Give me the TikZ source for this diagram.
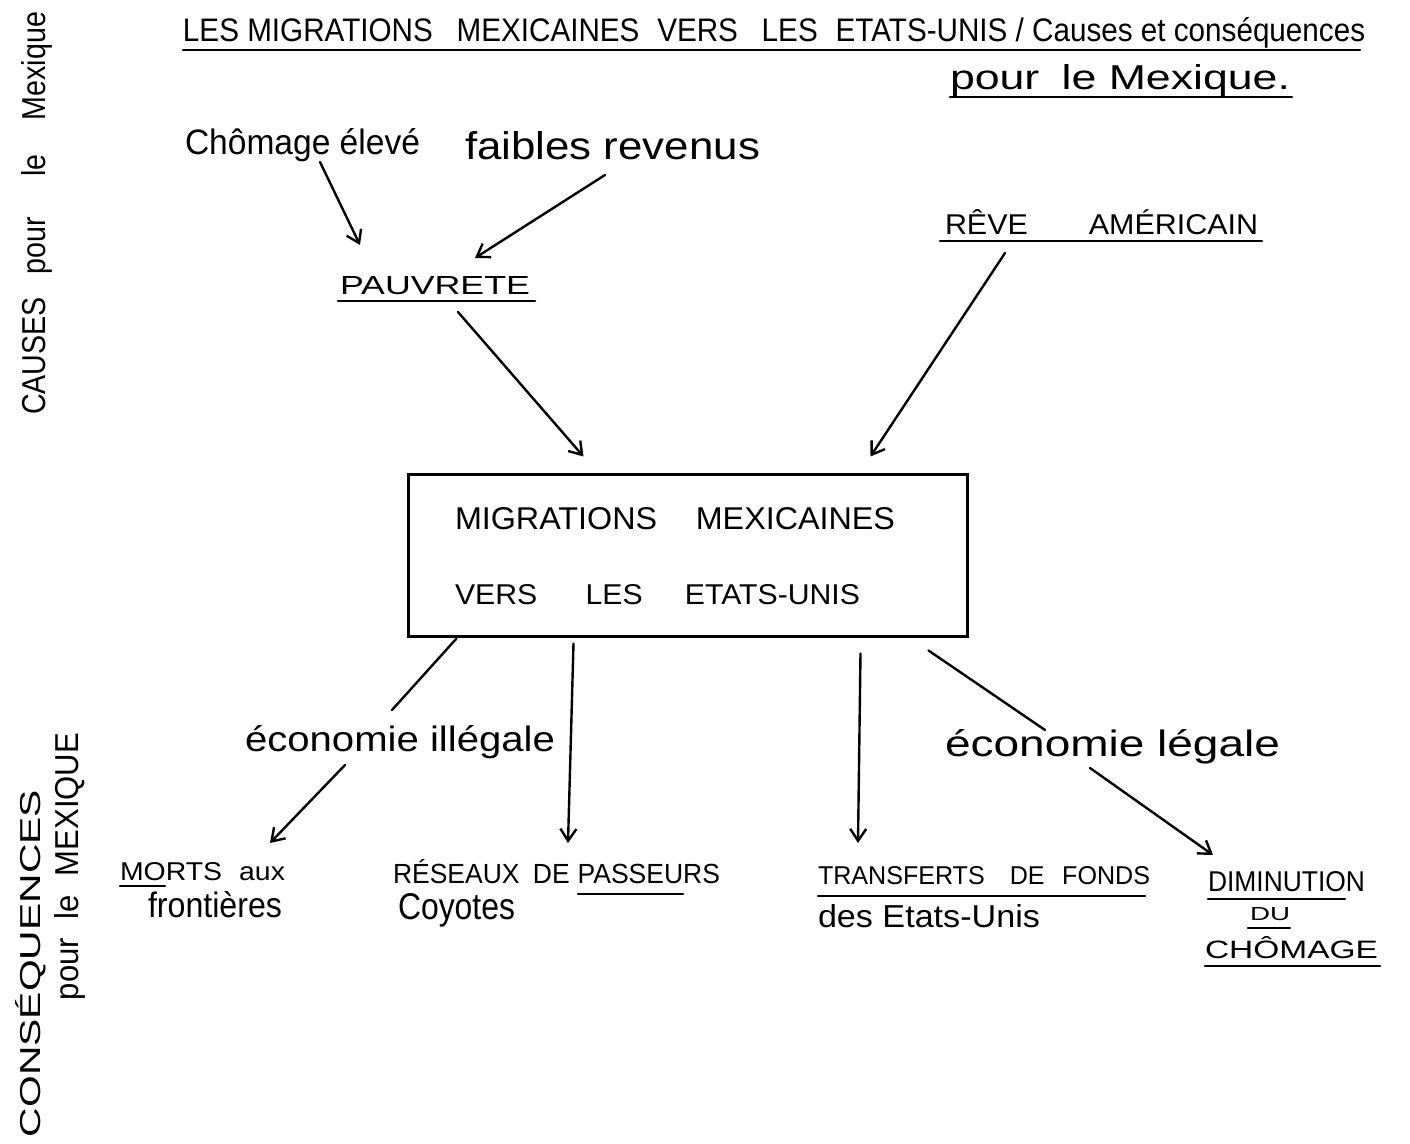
\documentclass[tikz,border=0pt]{standalone}
\usepackage{fontspec}
\setmainfont{Liberation Sans}
\usetikzlibrary{calc,arrows.meta}
\newlength\pxu
\setlength\pxu{0.5pt}
\newcommand{\hw}[3]{\resizebox{#1\pxu}{#2\pxu}{#3}}
\tikzset{
  txt/.style={anchor=base west, inner sep=0pt, outer sep=0pt},
  arr/.style={-{Straight Barb[length=6pt,width=8pt,line width=1.2pt]}, line width=1.2pt, line cap=round},
  ln/.style={line width=1.2pt, line cap=round},
  ul/.style={line width=1.3pt, line cap=round}
}
\begin{document}
\begin{tikzpicture}[x=0.5pt,y=-0.5pt]
\fill[white] (0,0) rectangle (1410,1144);
\useasboundingbox (0,0) rectangle (1410,1144);

% title
\node[txt] (t1) at (183,42) {\hw{1182}{24}{LES MIGRATIONS\hspace{0.8em}MEXICAINES\hspace{0.6em}VERS\hspace{0.8em}LES\hspace{0.6em}ETATS-UNIS / Causes et conséquences}};
\node[txt] (t2) at (950,90) {\hw{340}{25}{pour\hspace{0.5em}le Mexique.}};
\draw[ul] ($(t1.base west)+(0,8)$) -- ($(t1.base west)+(1177,8)$);
\draw[ul] ($(t2.base west)+(0,7)$) -- ($(t2.base west)+(342,7)$);

% causes
\node[txt] (chom) at (185,155) {\hw{235}{26}{Chômage élevé}};
\node[txt] (faib) at (465,160) {\hw{295}{28}{faibles revenus}};
\node[txt] (pauv) at (340,295) {\hw{190}{18}{PAUVRETE}};
\node[txt] (reve) at (945,235) {\hw{313}{25}{RÊVE\hspace{2em}AMÉRICAIN}};
\draw[ul] ($(pauv.base west)+(-2,6)$) -- ($(pauv.base west)+(195,6)$);
\draw[ul] ($(reve.base west)+(-5,6)$) -- ($(reve.base west)+(317,6)$);

% central box
\node[draw, line width=1.5pt, minimum width=279.5pt, minimum height=81pt, inner sep=0pt] (box) at (687.5,556) {};
\node[txt] (m1) at (455,530) {\hw{440}{22}{MIGRATIONS\hspace{1.2em}MEXICAINES}};
\node[txt] (m2) at (455,605) {\hw{405}{20}{VERS\hspace{1.6em}LES\hspace{1.4em}ETATS-UNIS}};

% economy labels
\node[txt] (ill) at (245,752) {\hw{310}{26}{économie illégale}};
\node[txt] (leg) at (945,757) {\hw{335}{27}{économie légale}};

% consequences
\node[txt] (morts) at (120,880) {\hw{165}{18}{MORTS\hspace{0.6em}aux}};
\node[txt] (fron) at (148,917) {\hw{134}{26}{frontières}};
\node[txt] (res) at (393,884) {\hw{327}{24}{RÉSEAUX\hspace{0.5em}DE\hspace{0.3em}PASSEURS}};
\node[txt] (coy) at (398,920) {\hw{117}{26}{Coyotes}};
\node[txt] (trans) at (818,884) {\hw{332}{18}{TRANSFERTS\hspace{1em}DE\hspace{0.7em}FONDS}};
\node[txt] (des) at (818,927) {\hw{222}{23}{des Etats-Unis}};
\node[txt] (dimi) at (1208,891) {\hw{157}{20}{DIMINUTION}};
\node[txt] (du) at (1250,921) {\hw{40}{13}{DU}};
\node[txt] (cho) at (1205,958) {\hw{173}{22}{CHÔMAGE}};
\draw[ul] ($(morts.base west)+(0,6)$) -- ($(morts.base west)+(45,6)$);
\draw[ul] ($(res.base west)+(185,10)$) -- ($(res.base west)+(290,10)$);
\draw[ul] ($(trans.base west)+(0,12)$) -- ($(trans.base west)+(327,12)$);
\draw[ul] ($(dimi.base west)+(0,8)$) -- ($(dimi.base west)+(137,8)$);
\draw[ul] ($(du.base west)+(-2,7)$) -- ($(du.base west)+(40,7)$);
\draw[ul] ($(cho.base west)+(0,8)$) -- ($(cho.base west)+(175,8)$);

% side labels
\node[txt, rotate=90] (causes) at (45,415) {\hw{403}{24}{CAUSES\hspace{0.8em}pour\hspace{1.4em}le\hspace{1.2em}Mexique}};
\node[txt, rotate=90] (cons) at (40,1137) {\hw{347}{25}{CONSÉQUENCES}};
\node[txt, rotate=90] (pourm) at (78,1000) {\hw{267}{24}{pour\hspace{0.6em}le\hspace{0.6em}MEXIQUE}};

% connectors
\draw[arr] ($(chom.base west)+(135,7)$) -- ($(pauv.base west)+(20,-50)$);
\draw[arr] ($(faib.base west)+(140,15)$) -- ($(pauv.base west)+(135,-37)$);
\draw[arr] ($(pauv.base west)+(118,17)$) -- ($(box.north west)+(177,-17)$);
\draw[arr] ($(reve.base west)+(60,18)$) -- ($(box.north west)+(464,-17)$);
\draw[ln]  ($(box.north west)+(50,165)$) -- ($(ill.base west)+(147,-42)$);
\draw[arr] ($(ill.base west)+(100,13)$) -- ($(morts.base west)+(150,-37)$);
\draw[arr] ($(box.north west)+(167,170)$) -- ($(res.base west)+(175,-41)$);
\draw[arr] ($(box.north west)+(454,180)$) -- ($(trans.base west)+(40,-41)$);
\draw[ln]  ($(box.north west)+(522,177)$) -- ($(leg.base west)+(100,-27)$);
\draw[arr] ($(leg.base west)+(145,11)$) -- ($(dimi.base west)+(5,-36)$);
\end{tikzpicture}
\end{document}
